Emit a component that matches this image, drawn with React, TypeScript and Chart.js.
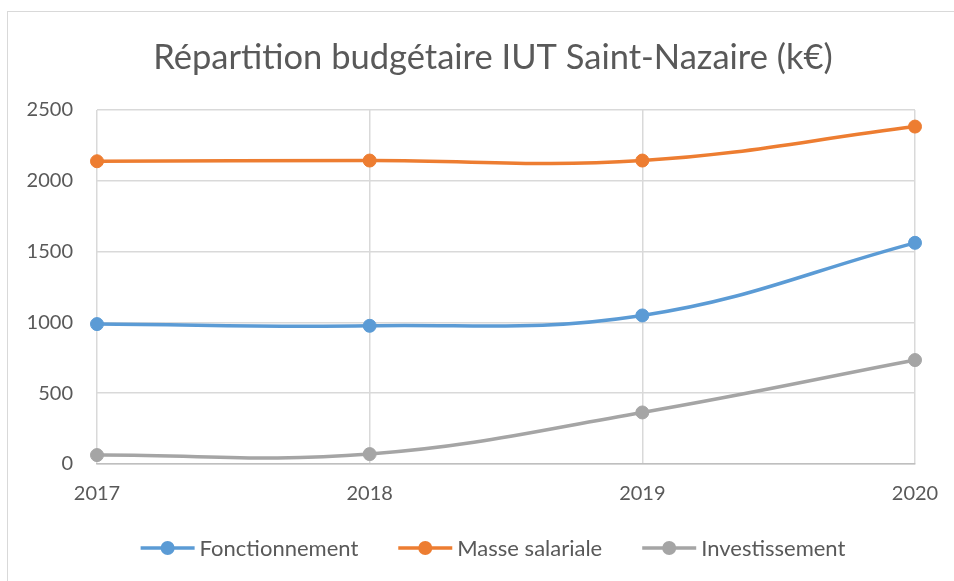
import React, { useEffect, useRef } from "react";
import { Chart, registerables } from "chart.js";

Chart.register(...registerables);

const titleText = "Répartition budgétaire IUT Saint-Nazaire (k€)";
const categories = ["2017", "2018", "2019", "2020"];
const fonctionnement = [988, 976, 1049, 1562];
const masseSalariale = [2138, 2143, 2143, 2383];
const investissement = [63, 70, 364, 734];
const yTicks = [0, 500, 1000, 1500, 2000, 2500];
const seriesNames = ["Fonctionnement", "Masse salariale", "Investissement"];
const seriesColors = ["#5B9BD5", "#ED7D31", "#A5A5A5"];

const CANVAS_W = 986;
const CANVAS_H = 581;
const FONT = "Lato, 'Open Sans', sans-serif";
const TEXT_COLOR = "#595959";

const legendPlugin = {
  id: "customLegend",
  afterDraw(chart: any) {
    const ctx = chart.ctx as CanvasRenderingContext2D;
    ctx.save();
    ctx.font = `22px ${FONT}`;
    const glyphW = 54;
    const gapText = 5;
    const gapItem = 40;
    const items = chart.data.datasets.map((ds: any) => ({
      text: ds.label as string,
      color: ds.borderColor as string,
      w: ctx.measureText(ds.label).width,
    }));
    const total =
      items.reduce((s: number, it: any) => s + glyphW + gapText + it.w, 0) +
      gapItem * (items.length - 1);
    let x = chart.width / 2 - total / 2;
    const y = 548;
    items.forEach((it: any) => {
      ctx.strokeStyle = it.color;
      ctx.lineWidth = 3.5;
      ctx.beginPath();
      ctx.moveTo(x, y);
      ctx.lineTo(x + glyphW, y);
      ctx.stroke();
      ctx.fillStyle = it.color;
      ctx.beginPath();
      ctx.arc(x + glyphW / 2, y, 7, 0, Math.PI * 2);
      ctx.fill();
      ctx.fillStyle = TEXT_COLOR;
      ctx.textBaseline = "middle";
      ctx.textAlign = "left";
      ctx.fillText(it.text, x + glyphW + gapText, y + 1);
      x += glyphW + gapText + it.w + gapItem;
    });
    ctx.restore();
  },
};

export default function App() {
  const canvasRef = useRef<HTMLCanvasElement | null>(null);

  useEffect(() => {
    if (!canvasRef.current) return;
    const seriesData = [fonctionnement, masseSalariale, investissement];
    const chart = new Chart(canvasRef.current, {
      type: "line",
      data: {
        labels: categories,
        datasets: seriesNames.map((name, i) => ({
          label: name,
          data: seriesData[i],
          borderColor: seriesColors[i],
          backgroundColor: seriesColors[i],
          pointBackgroundColor: seriesColors[i],
          pointBorderColor: seriesColors[i],
          pointBorderWidth: 1,
          pointRadius: 6.5,
          borderWidth: 3.5,
          tension: 0.4,
          fill: false,
          clip: false as any,
        })),
      },
      options: {
        responsive: false,
        animation: false,
        devicePixelRatio: 1,
        layout: { padding: { top: 0, left: 0, right: 0, bottom: 57 } },
        plugins: {
          legend: { display: false },
          tooltip: { enabled: false },
          title: {
            display: true,
            text: titleText,
            color: TEXT_COLOR,
            font: { family: FONT, size: 34.5, weight: "normal" as any, lineHeight: 1.2 },
            padding: { top: 37, bottom: 31.6 },
          },
        },
        scales: {
          x: {
            type: "category",
            offset: false,
            grid: { color: "#D9D9D9", lineWidth: 1.5, drawTicks: false },
            border: { display: true, color: "#BFBFBF", width: 1.5 },
            ticks: {
              color: TEXT_COLOR,
              font: { family: FONT, size: 20 },
              padding: 18,
              maxRotation: 0,
              autoSkip: false,
            },
            afterFit: (scale: any) => {
              scale.height = 60;
            },
          },
          y: {
            type: "linear",
            min: 0,
            max: 2500,
            grid: { color: "#D9D9D9", lineWidth: 1.5, drawTicks: false },
            border: { display: false },
            ticks: {
              color: TEXT_COLOR,
              font: { family: FONT, size: 20 },
              padding: 24,
              callback: (v: any) => String(v),
            },
            afterBuildTicks: (scale: any) => {
              scale.ticks = yTicks.map((v) => ({ value: v }));
            },
            afterFit: (scale: any) => {
              scale.width = 97;
            },
          },
          yRight: {
            type: "linear",
            position: "right",
            display: true,
            grid: { display: false, drawTicks: false },
            border: { display: false },
            ticks: { display: false },
            afterFit: (scale: any) => {
              scale.width = 71;
            },
          },
        },
      },
      plugins: [legendPlugin],
    });
    return () => chart.destroy();
  }, []);

  return (
    <div
      style={{
        position: "fixed",
        left: 0,
        top: 0,
        width: 954,
        height: 581,
        overflow: "hidden",
        background: "#fff",
      }}
    >
      <div
        style={{
          position: "absolute",
          left: 7,
          top: 11,
          width: 1100,
          height: 1100,
          border: "1.5px solid #D9D9D9",
          boxSizing: "border-box",
        }}
      />
      <canvas
        ref={canvasRef}
        width={CANVAS_W}
        height={CANVAS_H}
        style={{ position: "absolute", left: 0, top: 0, display: "block" }}
      />
    </div>
  );
}
